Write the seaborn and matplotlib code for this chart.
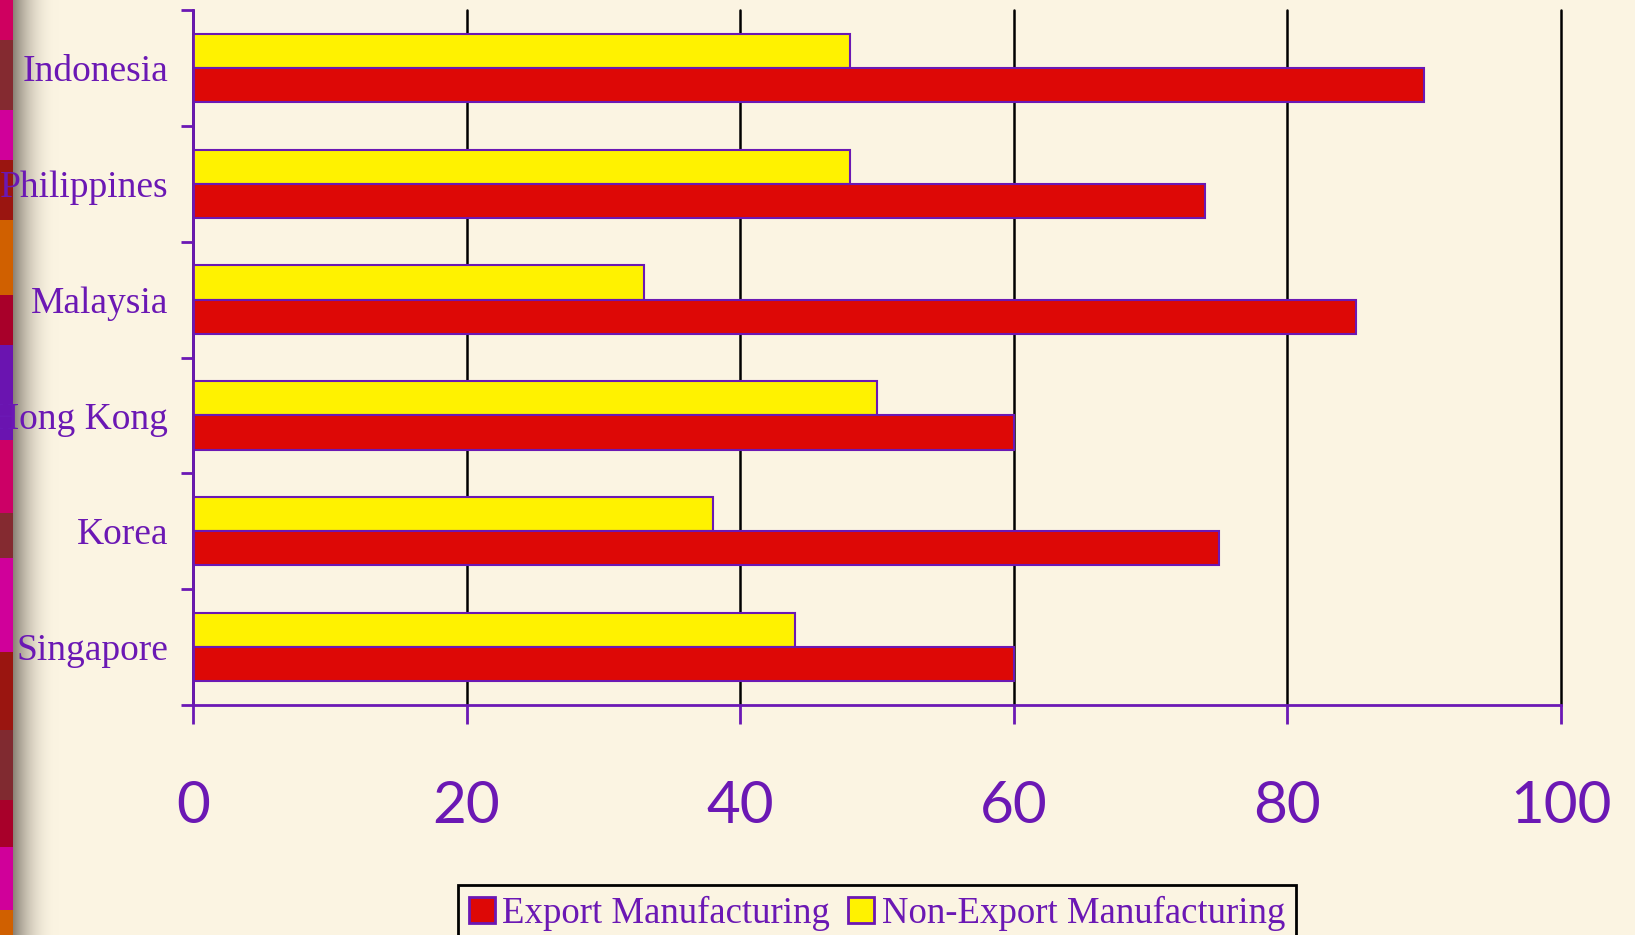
import numpy as np
import pandas as pd
import matplotlib
matplotlib.use('Agg')
import matplotlib.pyplot as plt
from matplotlib.patches import Patch
from matplotlib.colors import to_rgb
import seaborn as sns

# data
countries = ['Indonesia', 'Philippines', 'Malaysia', 'Hong Kong', 'Korea', 'Singapore']
export_mfg = [90, 74, 85, 60, 75, 60]
non_export_mfg = [48, 48, 33, 50, 38, 44]
series_names = ['Export Manufacturing', 'Non-Export Manufacturing']
x_ticks = [0, 20, 40, 60, 80, 100]

BG = '#FBF4E2'
PURPLE = '#6B18B4'
RED = '#DD0806'
YELLOW = '#FFF200'

# decorative strip on the left edge (top pixel of each block, colour)
strip_blocks = [(0, '#CF0060'), (40, '#842A30'), (110, '#D0009A'), (160, '#9A1510'),
                (220, '#D06000'), (295, '#A8002A'), (345, '#6A14B0'), (440, '#CC0066'),
                (513, '#842A30'), (558, '#D0009A'), (652, '#9A1510'), (730, '#802A30'),
                (800, '#A8002A'), (847, '#D0009A'), (910, '#D06000')]

df = pd.DataFrame({
    'country': countries * 2,
    'value': export_mfg + non_export_mfg,
    'series': [series_names[0]] * len(countries) + [series_names[1]] * len(countries),
})

sns.set_theme(style='white')
plt.rcParams['font.family'] = ['Liberation Serif', 'DejaVu Serif']

W, H = 1635, 935
fig = plt.figure(figsize=(W / 100, H / 100), dpi=100, facecolor=BG)

# left strip + shadow
strip = np.zeros((H, 1, 3))
for i, (top, col) in enumerate(strip_blocks):
    bottom = strip_blocks[i + 1][0] if i + 1 < len(strip_blocks) else H
    strip[top:bottom, 0, :] = to_rgb(col)
sax = fig.add_axes([0, 0, 13 / W, 1])
sax.imshow(strip, aspect='auto', interpolation='nearest')
sax.axis('off')

t = np.linspace(0, 1, 60)
shade = (1 - t) ** 2.2
bg = np.array(to_rgb(BG))
dark = np.array(to_rgb('#8A8276'))
grad = bg[None, :] * (1 - shade[:, None]) + dark[None, :] * shade[:, None]
gax = fig.add_axes([13 / W, 0, 45 / W, 1])
gax.imshow(grad[None, :, :], aspect='auto', interpolation='bilinear')
gax.axis('off')

ax = fig.add_axes([193 / W, 1 - 705 / H, (1561 - 193) / W, (705 - 10) / H])
ax.set_facecolor(BG)

sns.barplot(data=df, y='country', x='value', hue='series',
            hue_order=[series_names[1], series_names[0]],
            palette={series_names[0]: RED, series_names[1]: YELLOW},
            order=countries, width=0.59, saturation=1,
            edgecolor=PURPLE, linewidth=1.5, orient='h',
            legend=False, ax=ax, zorder=3)

ax.set_xlim(0, 100)
ax.set_ylim(len(countries) - 0.5, -0.5)
ax.set_xlabel('')
ax.set_ylabel('')

ax.set_axisbelow(True)
ax.xaxis.grid(True, color='black', linewidth=1.8)
ax.yaxis.grid(False)
for gl in ax.xaxis.get_gridlines():
    gl.set_clip_on(False)

for side in ['top', 'right']:
    ax.spines[side].set_visible(False)
for side in ['left', 'bottom']:
    ax.spines[side].set_color(PURPLE)
    ax.spines[side].set_linewidth(2)
    ax.spines[side].set_zorder(4)

ax.set_xticks(x_ticks)
ax.set_xticklabels([str(v) for v in x_ticks])
ax.tick_params(axis='x', length=14, width=2, color=PURPLE, pad=40,
               labelsize=42, labelcolor=PURPLE, bottom=True)
for lab in ax.get_xticklabels():
    lab.set_fontfamily('Lato')

ax.set_yticks(range(len(countries)))
ax.set_yticklabels(countries)
ax.set_yticks(np.arange(-0.5, len(countries), 1), minor=True)
ax.tick_params(axis='y', which='major', length=0, pad=18,
               labelsize=27, labelcolor=PURPLE, left=False)
ax.tick_params(axis='y', which='minor', length=8.5, width=2, color=PURPLE, left=True)

handles = [Patch(facecolor=RED, edgecolor=PURPLE, linewidth=2),
           Patch(facecolor=YELLOW, edgecolor=PURPLE, linewidth=2)]
leg = fig.legend(handles=handles, labels=series_names, loc='upper center',
                 bbox_to_anchor=(877 / W, 1 - 885 / H), ncol=2, frameon=True,
                 fancybox=False, edgecolor='black', facecolor=BG, framealpha=1,
                 fontsize=26.5, labelcolor=PURPLE, handlelength=0.7, handleheight=0.7,
                 handletextpad=0.2, columnspacing=0.5, borderpad=0.3,
                 borderaxespad=0)
leg.get_frame().set_linewidth(2)

fig.savefig('out.png', dpi=100, facecolor=BG)
